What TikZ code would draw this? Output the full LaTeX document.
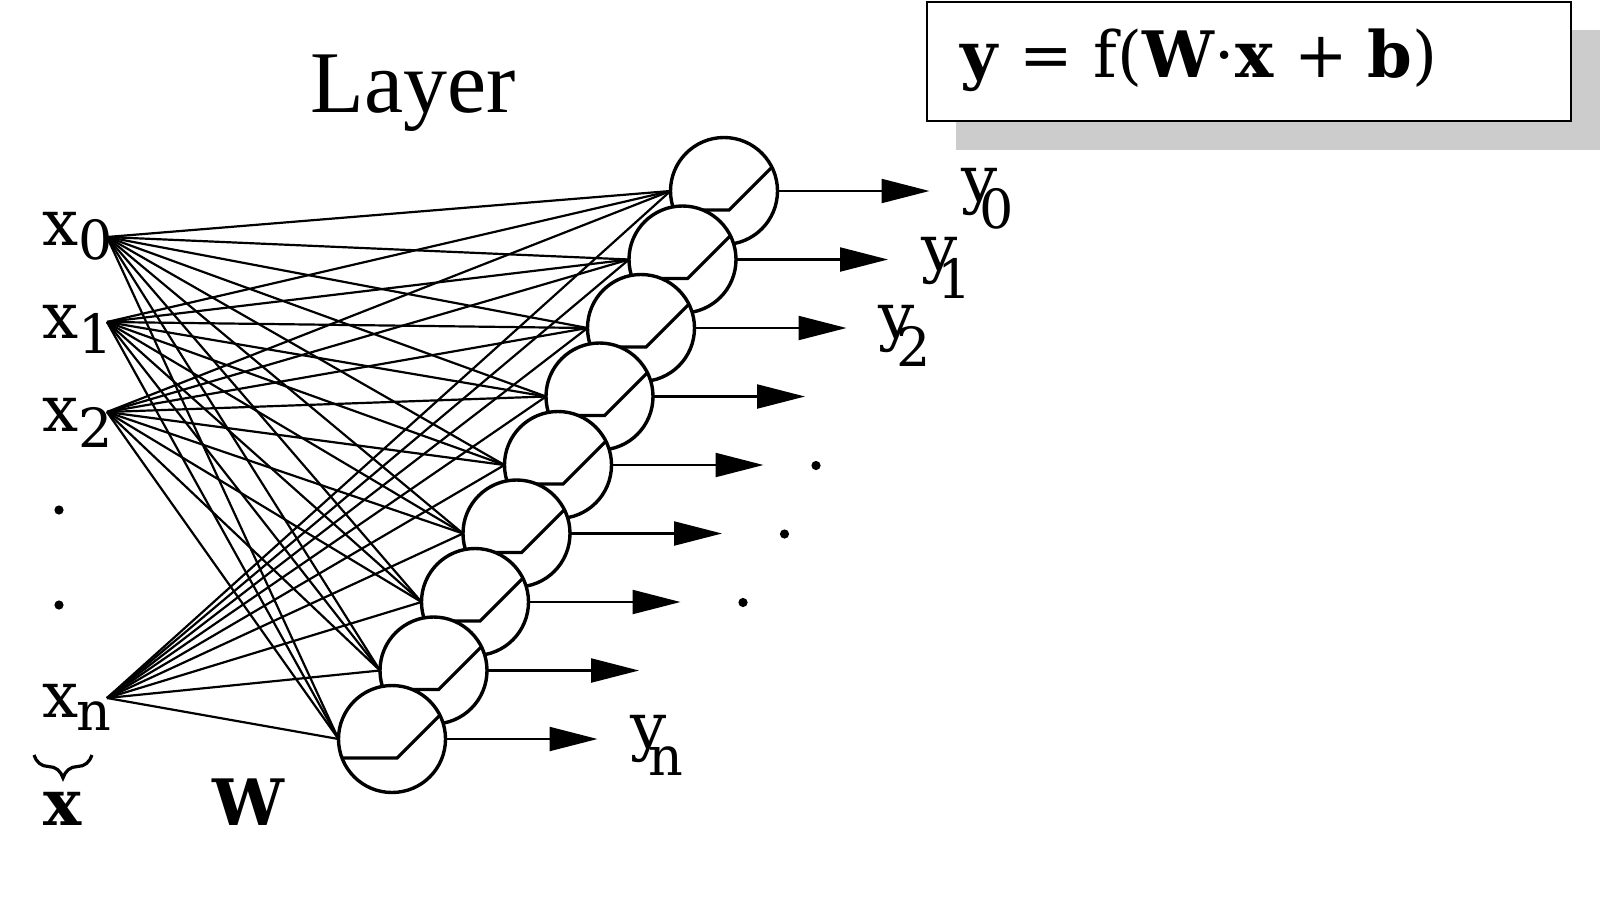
\documentclass[tikz,border=0pt]{standalone}
\usepackage{fontspec}
\setmainfont{DejaVu Serif}
\newfontfamily\layerfont{Liberation Serif}
\usetikzlibrary{arrows.meta,decorations.pathreplacing,calc}
\pgfdeclarelayer{bg}
\pgfsetlayers{bg,main}
\definecolor{shadowgray}{HTML}{CCCCCC}
\newcommand\mylab[4]{#1\kern#3\raisebox{-#4}{\fontsize{27pt}{30pt}\selectfont #2}}
\begin{document}
\begin{tikzpicture}[x=0.5pt,y=-0.5pt,
  lbl/.style={inner sep=0pt, anchor=base west, font=\fontsize{32pt}{38pt}\selectfont},
  neuron/.style={circle, draw, line width=1.7pt, fill=white, minimum size=53.5pt,
    inner sep=0pt, outer sep=0pt,
    path picture={\draw[line width=1.6pt]
      ($(path picture bounding box.center)+(-60,19)$) -- ++(65,0) -- ++(80,-80);}},
  wire/.style={line width=1.1pt},
  outarrow/.style={line width=1.1pt, -{Triangle[length=24pt,width=12pt]}},
  dotmark/.style={circle, fill=black, inner sep=0pt, minimum size=4.6pt},
  bracestyle/.style={line width=1.6pt, decorate, decoration={brace, mirror, amplitude=11.5pt}},
]
\useasboundingbox (0,0) rectangle (1600,900);

% equation box with shadow
\fill[shadowgray] (956,30) rectangle (1600,150);
\draw[line width=1.1pt, fill=white] (927,2) rectangle (1571,121);
\node[lbl] (eq) at (960,77.3) {\textbf{y} = f(\textbf{W}·\textbf{x} + \textbf{b})};

% title
\node[inner sep=0pt, anchor=base west, font=\layerfont\fontsize{44pt}{50pt}\selectfont] (layer) at (310,112) {Layer};

% input fan points
\coordinate (in0) at (107,237);
\coordinate (in1) at (107,322);
\coordinate (in2) at (107,412);
\coordinate (inn) at (107,698);

% neurons
\foreach \j in {0,...,8}
  \node[neuron] (n\j) at (724-41.5*\j, 191+68.5*\j) {};

% weights
\begin{pgfonlayer}{bg}
\foreach \s in {in0,in1,in2,inn}
  \foreach \j in {0,...,8}
    \draw[wire] (\s) -- (n\j.west);
\end{pgfonlayer}

% outputs
\foreach \j in {0,...,8}
  \draw[outarrow] (n\j.east) -- ++(152,0);

% input labels
\node[lbl] (x0) at (42,245) {\mylab{x}{0}{0pt}{7pt}};
\node[lbl] (x1) at (42,338) {\mylab{x}{1}{0pt}{7.5pt}};
\node[lbl] (x2) at (42,431.5) {\mylab{x}{2}{0pt}{8pt}};
\node[lbl] (xn) at (42,717) {\mylab{x}{n}{-1pt}{6.5pt}};
\node[dotmark] (ld1) at (59,510) {};
\node[dotmark] (ld2) at (59,605) {};

% output labels
\node[lbl] (y0) at (961,201) {\mylab{y}{0}{-9pt}{13.5pt}};
\node[lbl] (y1) at (921,270) {\mylab{y}{1}{-10pt}{14pt}};
\node[lbl] (y2) at (878,338) {\mylab{y}{2}{-9pt}{14pt}};
\node[lbl] (yn) at (630,748) {\mylab{y}{n}{-9pt}{13.5pt}};
\node[dotmark] (rd1) at (816,465.5) {};
\node[dotmark] (rd2) at (784.5,534) {};
\node[dotmark] (rd3) at (743,602.5) {};

% vector / matrix labels
\draw[bracestyle] (34,755) -- (92,755);
\node[lbl, font=\fontsize{32pt}{38pt}\selectfont\bfseries] (xvec) at (43,825) {x};
\node[lbl, font=\fontsize{32pt}{38pt}\selectfont\bfseries] (wmat) at (212,825) {W};
\end{tikzpicture}
\end{document}
